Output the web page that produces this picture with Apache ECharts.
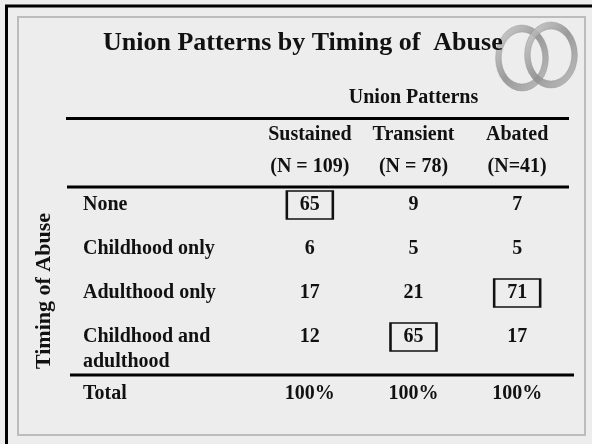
<!DOCTYPE html>
<html>
<head>
<meta charset="utf-8">
<script src="https://cdn.jsdelivr.net/npm/echarts@6/dist/echarts.min.js"></script>
<style>
  html, body { margin: 0; padding: 0; background: #ededed; }
  #chart { width: 592px; height: 444px; }
</style>
</head>
<body>
<div id="chart"></div>
<script>
// ---- data ----
const titleText = 'Union Patterns by Timing of  Abuse';
const columnGroup = 'Union Patterns';
const rowGroup = 'Timing of Abuse';
const columns = ['Sustained', 'Transient', 'Abated'];
const columnN = ['(N = 109)', '(N = 78)', '(N=41)'];
const rows = ['None', 'Childhood only', 'Adulthood only', 'Childhood and\nadulthood'];
const sustained = [65, 6, 17, 12];
const transient = [9, 5, 21, 65];
const abated = [7, 5, 71, 17];
const totalLabel = 'Total';
const totals = ['100%', '100%', '100%'];
const boxed = [[0, 0], [2, 2], [1, 3]]; // [column, row]

// ---- build ----
const FONT = 'Liberation Serif';
const INK = '#111111';
const seriesByColumn = [sustained, transient, abated];
const cells = [];
seriesByColumn.forEach(function (vals, c) {
  vals.forEach(function (v, r) {
    const isBoxed = boxed.some(function (b) { return b[0] === c && b[1] === r; });
    cells.push({
      value: [c, r, v],
      itemStyle: isBoxed
        ? { color: 'rgba(0,0,0,0)', borderColor: INK, borderWidth: 2, opacity: 1 }
        : { color: 'rgba(0,0,0,0)', borderWidth: 0, opacity: 1 }
    });
  });
});

function ring(cx, cy) {
  return {
    type: 'ring',
    x: cx, y: cy, scaleX: 0.8,
    shape: { cx: 0, cy: 0, r: 33, r0: 26 },
    style: {
      fill: { type: 'linear', x: 0, y: 0, x2: 1, y2: 1,
        colorStops: [{ offset: 0, color: '#d0d0d0' }, { offset: 0.5, color: '#8c8c8c' }, { offset: 1, color: '#b8b8b8' }] },
      stroke: '#888', lineWidth: 0.5, opacity: 0.85
    },
    silent: true
  };
}

const chart = echarts.init(document.getElementById('chart'), null, { renderer: 'canvas' });
chart.setOption({
  animation: false,
  backgroundColor: '#ededed',
  title: {
    text: titleText,
    left: 103, top: 30, padding: 0,
    textStyle: { fontFamily: FONT, fontSize: 26, fontWeight: 'bold', color: INK }
  },
  grid: { left: 258, right: 23, top: 183, bottom: 85 },
  xAxis: [
    {
      type: 'category', position: 'top', data: columns,
      axisLine: { show: false }, axisTick: { show: false }, splitLine: { show: false },
      axisLabel: {
        interval: 0, hideOverlap: false,
        margin: 0, lineHeight: 32,
        fontFamily: FONT, fontSize: 20, fontWeight: 'bold', color: INK,
        formatter: function (v, i) { return v + '\n' + columnN[i]; }
      },
      name: columnGroup, nameLocation: 'middle', nameGap: 75,
      nameTextStyle: { fontFamily: FONT, fontSize: 20, fontWeight: 'bold', color: INK }
    },
    {
      type: 'category', position: 'bottom', offset: 16, data: columns,
      axisLine: { show: false }, axisTick: { show: false }, splitLine: { show: false },
      axisLabel: {
        interval: 0, hideOverlap: false,
        margin: 9,
        fontFamily: FONT, fontSize: 20, fontWeight: 'bold', color: INK,
        formatter: function (v, i) { return totals[i]; }
      },
      name: totalLabel, nameLocation: 'start', nameGap: 175,
      nameTextStyle: { align: 'left', verticalAlign: 'top', padding: [9, 0, 0, 0], fontFamily: FONT, fontSize: 20, fontWeight: 'bold', color: INK }
    }
  ],
  yAxis: {
    type: 'category', inverse: true, data: rows,
    axisLine: { show: false }, axisTick: { show: false }, splitLine: { show: false },
    axisLabel: {
      interval: 0, hideOverlap: false,
      align: 'left', margin: 175, lineHeight: 25,
      fontFamily: FONT, fontSize: 20, fontWeight: 'bold', color: INK,
      formatter: function (v) { return v.indexOf('\n') >= 0 ? '\n' + v : v; }
    },
    name: rowGroup, nameLocation: 'middle', nameRotate: 90, nameGap: 203,
    nameTextStyle: { padding: [0, 40, 0, 0], fontFamily: FONT, fontSize: 22, fontWeight: 'bold', color: INK }
  },
  series: [{
    type: 'scatter', xAxisIndex: 0, yAxisIndex: 0,
    symbol: 'rect', symbolSize: [46, 28], silent: true,
    itemStyle: { opacity: 1 },
    data: cells,
    label: {
      show: true, position: 'inside',
      fontFamily: FONT, fontSize: 20, fontWeight: 'bold', color: INK,
      formatter: function (p) { return p.value[2]; }
    },
    emphasis: { disabled: true }
  }],
  graphic: [
    { type: 'rect', z: -10, shape: { x: 18, y: 17, width: 567, height: 418 }, style: { fill: 'none', stroke: '#bcbcbc', lineWidth: 2 }, silent: true },
    { type: 'line', shape: { x1: 5, y1: 6, x2: 592, y2: 6 }, style: { stroke: '#000', lineWidth: 3 }, silent: true },
    { type: 'line', shape: { x1: 6.5, y1: 5, x2: 6.5, y2: 444 }, style: { stroke: '#000', lineWidth: 3 }, silent: true },
    { type: 'line', shape: { x1: 66, y1: 118.5, x2: 569, y2: 118.5 }, style: { stroke: '#000', lineWidth: 3 }, silent: true },
    { type: 'line', shape: { x1: 67, y1: 187, x2: 569, y2: 187 }, style: { stroke: '#000', lineWidth: 3 }, silent: true },
    { type: 'line', shape: { x1: 70, y1: 375, x2: 574, y2: 375 }, style: { stroke: '#000', lineWidth: 3 }, silent: true },
    ring(522, 58),
    ring(551, 55)
  ]
});
</script>
</body>
</html>
